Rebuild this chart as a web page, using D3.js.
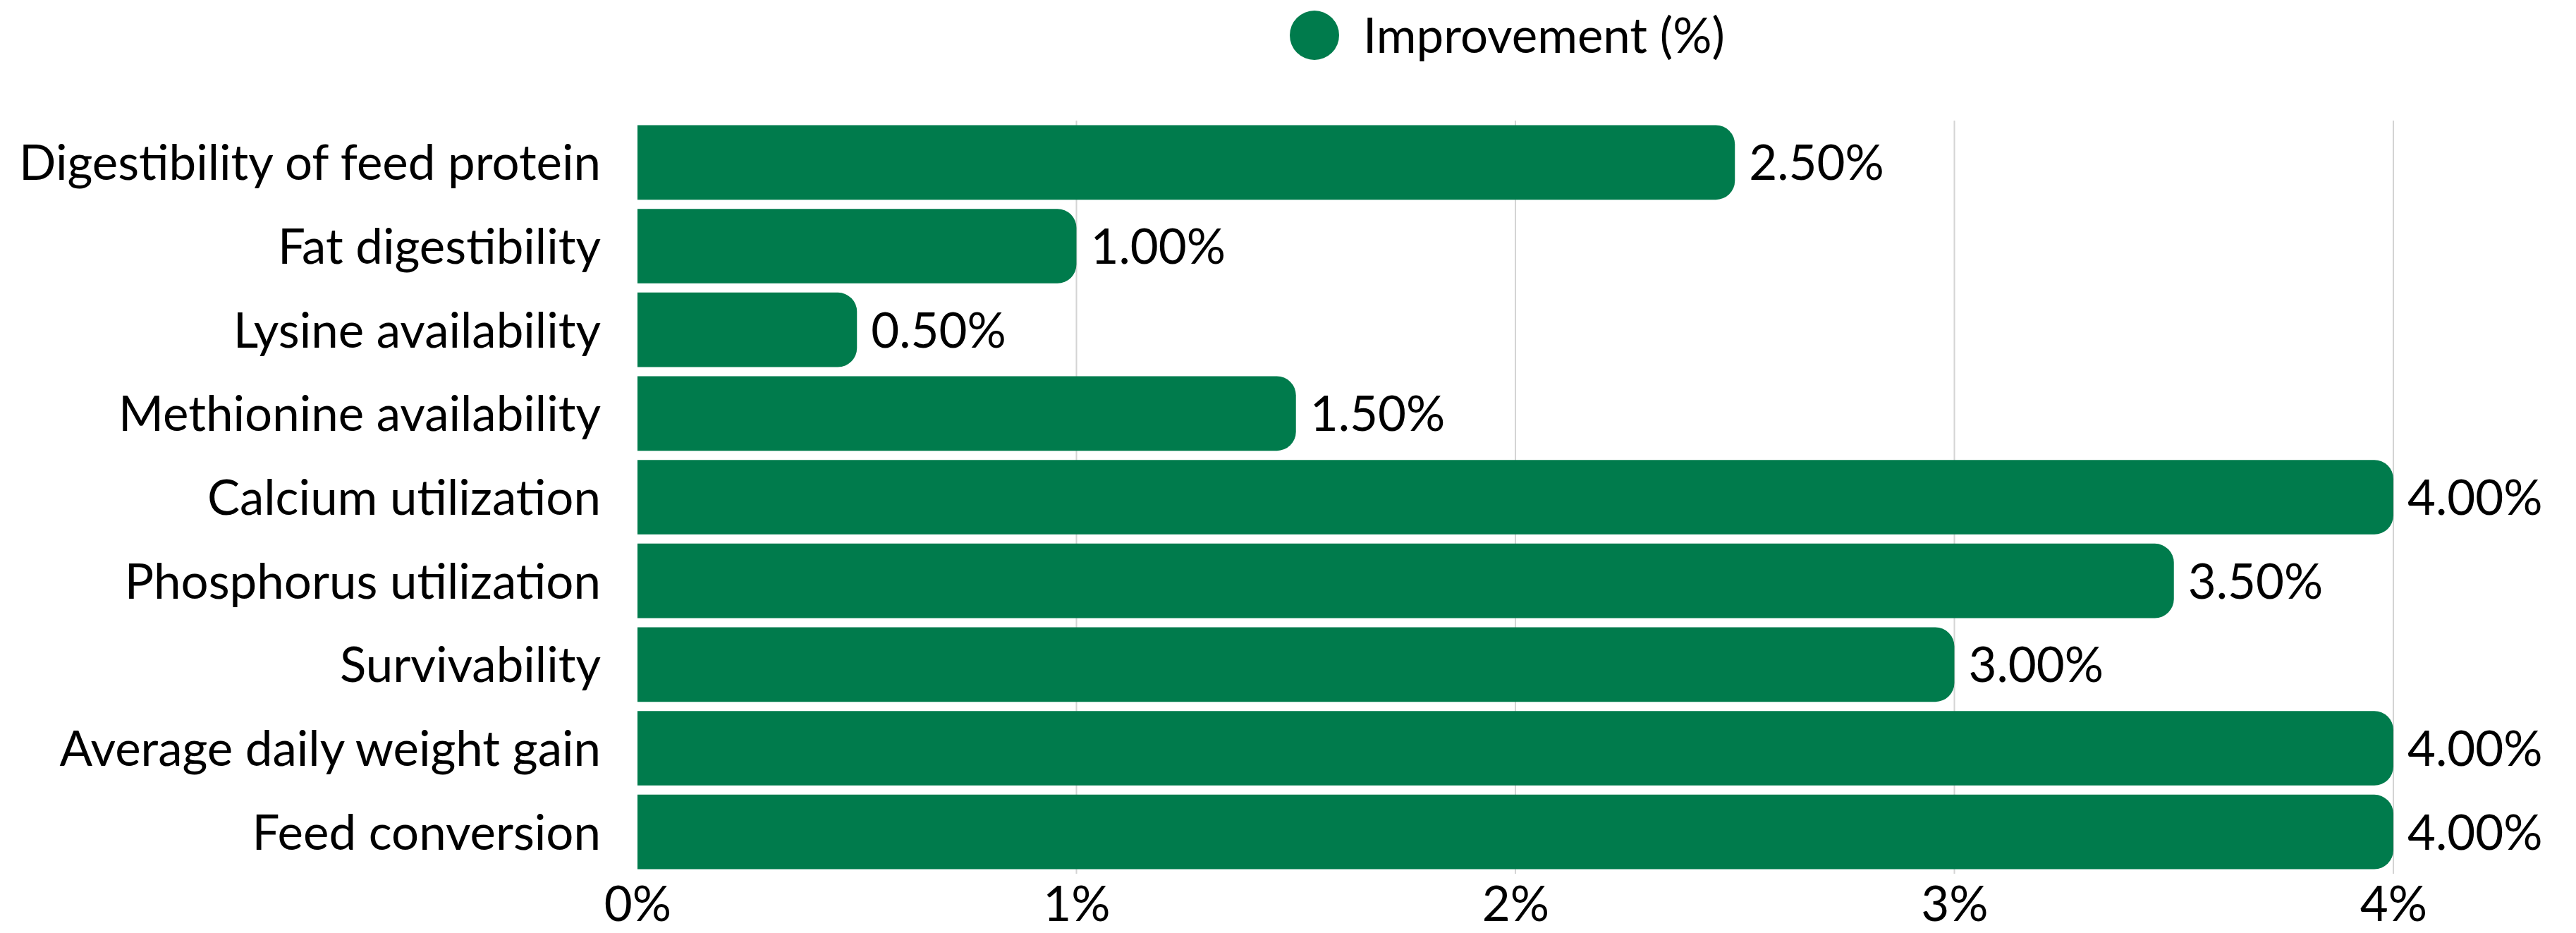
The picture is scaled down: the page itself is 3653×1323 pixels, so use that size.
<!DOCTYPE html>
<html>
<head>
<meta charset="utf-8">
<script src="https://cdn.jsdelivr.net/npm/d3@7"></script>
<style>
  html, body { margin: 0; padding: 0; background: #fff; }
  text { font-family: Lato, "Noto Sans", sans-serif; fill: #000; }
</style>
</head>
<body>
<div id="chart"></div>
<script>
var categories = [
  'Digestibility of feed protein',
  'Fat digestibility',
  'Lysine availability',
  'Methionine availability',
  'Calcium utilization',
  'Phosphorus utilization',
  'Survivability',
  'Average daily weight gain',
  'Feed conversion'
];
var improvement = [2.5, 1.0, 0.5, 1.5, 4.0, 3.5, 3.0, 4.0, 4.0];
var xTicks = [0, 1, 2, 3, 4];
var seriesName = 'Improvement (%)';

var width = 3653, height = 1323;
var green = '#007b4c';
var fontSize = 69;

var svg = d3.select('#chart').append('svg')
  .attr('width', width)
  .attr('height', height);

var x = d3.scaleLinear().domain([0, 4]).range([904, 3394]);
var y = d3.scaleBand().domain(categories).range([171, 1239])
  .paddingInner(0.11).paddingOuter(0.055);

// grid lines
svg.append('g').selectAll('line').data(xTicks.slice(1)).enter().append('line')
  .attr('x1', function (d) { return x(d); })
  .attr('x2', function (d) { return x(d); })
  .attr('y1', 171)
  .attr('y2', 1239)
  .attr('stroke', '#d4d4d4')
  .attr('stroke-width', 2);

// bars, square at the left, rounded at the right
var r = 27;
svg.append('g').selectAll('path').data(categories).enter().append('path')
  .attr('fill', green)
  .attr('d', function (d, i) {
    var x0 = x(0), x1 = x(improvement[i]);
    var y0 = y(d), h = y.bandwidth();
    var p = d3.path();
    p.moveTo(x0, y0);
    p.lineTo(x1 - r, y0);
    p.arcTo(x1, y0, x1, y0 + r, r);
    p.lineTo(x1, y0 + h - r);
    p.arcTo(x1, y0 + h, x1 - r, y0 + h, r);
    p.lineTo(x0, y0 + h);
    p.closePath();
    return p.toString();
  });

// value labels
svg.append('g').selectAll('text').data(categories).enter().append('text')
  .attr('x', function (d, i) { return x(improvement[i]) + 20; })
  .attr('y', function (d) { return y(d) + y.bandwidth() / 2; })
  .attr('dy', '0.36em')
  .attr('font-size', fontSize)
  .text(function (d, i) { return improvement[i].toFixed(2) + '%'; });

// category axis
var yAxis = svg.append('g')
  .attr('transform', 'translate(' + x(0) + ',0)')
  .call(d3.axisLeft(y).tickSize(0).tickPadding(52));
yAxis.select('.domain').remove();
yAxis.selectAll('text')
  .attr('font-size', fontSize)
  .attr('font-family', 'Lato, "Noto Sans", sans-serif')
  .attr('fill', '#000')
  .attr('dy', '0.36em');

// value axis
var xAxis = svg.append('g')
  .attr('transform', 'translate(0,1239)')
  .call(d3.axisBottom(x).tickValues(xTicks).tickSize(0).tickPadding(18)
    .tickFormat(function (d) { return d + '%'; }));
xAxis.select('.domain').remove();
xAxis.selectAll('text')
  .attr('font-size', fontSize)
  .attr('font-family', 'Lato, "Noto Sans", sans-serif')
  .attr('fill', '#000');

// legend
var legend = svg.append('g');
legend.append('circle')
  .attr('cx', 1864).attr('cy', 50).attr('r', 35)
  .attr('fill', green);
legend.append('text')
  .attr('x', 1933).attr('y', 50)
  .attr('dy', '0.36em')
  .attr('font-size', fontSize)
  .text(seriesName);
</script>
</body>
</html>
